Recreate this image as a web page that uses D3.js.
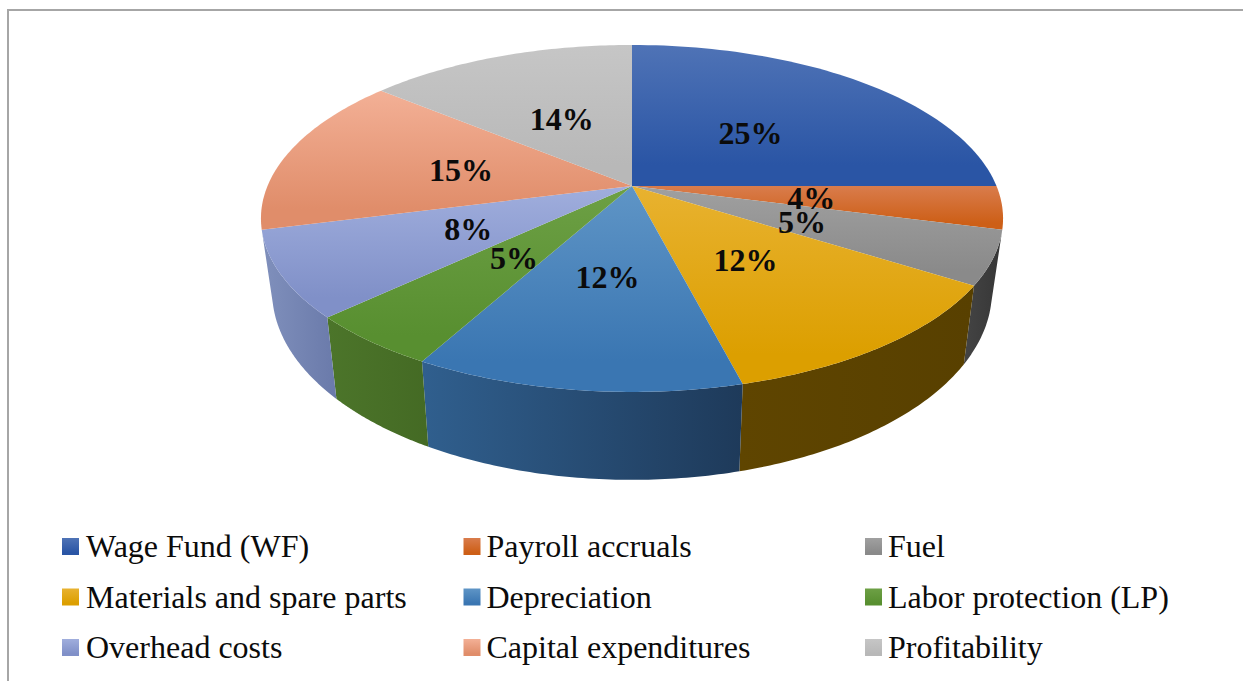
<!DOCTYPE html>
<html><head><meta charset="utf-8">
<script src="https://cdnjs.cloudflare.com/ajax/libs/d3/7.8.5/d3.min.js"></script>
<style>html,body{margin:0;padding:0;background:#fff}svg{display:block}text{font-family:"Liberation Serif",serif;fill:#0b0b0b}</style>
</head><body><svg id="c" width="1243" height="681"></svg>
<script>
const categories=["Wage Fund (WF)","Payroll accruals","Fuel","Materials and spare parts","Depreciation","Labor protection (LP)","Overhead costs","Capital expenditures","Profitability"];
const values=[25,4,5,12,12,5,8,15,14];
const topLight=["#4f73b6","#d97c4c","#a0a0a0","#e8b230","#5f95c6","#6da045","#a0aedd","#f3b096","#c6c6c6"];
const topDark=["#2a55a5","#cd5f17","#8a8a8a","#dc9f00","#3a76b2","#588f30","#8090c8","#e08d6a","#b8b8b8"];
const wallLeft=["#2a55a5","#cd5f17","#444444","#5f4500","#305f8e","#4c752a","#8090bc","#e08d6a","#b8b8b8"];
const wallRight=["#2a55a5","#cd5f17","#363636","#584000","#1e3a5a","#446a24","#6a7aaa","#e08d6a","#b8b8b8"];

const svg=d3.select("#c"),defs=svg.append("defs");
svg.append("rect").attr("x",8).attr("y",10).attr("width",1240).attr("height",680)
  .attr("fill","#fff").attr("stroke","#a6a6a6").attr("stroke-width",2);

// perspective projection of the pie's top and bottom discs
const k=0.187;
const project=(r,t)=>{const u=r*Math.sin(t),v=-r*Math.cos(t),d=1-k*v;return [632+364.5*u/d,186+167.4*v/d];};
const projectBottom=t=>{const u=Math.sin(t),v=-Math.cos(t),d=1-k*v;return [632+0.97*364.5*u/d,256+182*v/d];};
const line=d3.line();
const arcs=d3.pie().sort(null).value(d=>d)(values);
const samples=(a,b)=>d3.range(0,61).map(i=>a+(b-a)*i/60);

arcs.forEach((a,i)=>{
  const g=defs.append("linearGradient").attr("id","top"+i).attr("x1",0).attr("y1",0).attr("x2",0).attr("y2",1);
  g.append("stop").attr("offset","0%").attr("stop-color",topLight[i]);
  g.append("stop").attr("offset","85%").attr("stop-color",topDark[i]);
  const w=defs.append("linearGradient").attr("id","wall"+i).attr("x1",0).attr("y1",0).attr("x2",1).attr("y2",0);
  w.append("stop").attr("offset","0%").attr("stop-color",wallLeft[i]);
  w.append("stop").attr("offset","100%").attr("stop-color",wallRight[i]);
});

// side walls: only the rim facing the viewer
const wallStart=arcs[2].startAngle, wallEnd=arcs[6].endAngle;
arcs.forEach((a,i)=>{
  if(a.endAngle<=wallStart||a.startAngle>=wallEnd) return;
  const ts=samples(a.startAngle,a.endAngle);
  const pts=ts.map(t=>project(1,t)).concat(ts.slice().reverse().map(projectBottom));
  svg.append("path").attr("d",line(pts)+"Z").attr("fill",`url(#wall${i})`);
});
// top face
arcs.forEach((a,i)=>{
  const pts=[project(0,0)].concat(samples(a.startAngle,a.endAngle).map(t=>project(1,t)));
  svg.append("path").attr("d",line(pts)+"Z").attr("fill",`url(#top${i})`);
});
// data labels
arcs.forEach((a,i)=>{
  const [x,y]=project(0.49,(a.startAngle+a.endAngle)/2);
  svg.append("text").attr("x",x).attr("y",y+2).attr("dy","0.34em").attr("text-anchor","middle")
    .attr("font-size",32).attr("font-weight","bold").text(values[i]+"%");
});
// legend
const colX=d3.scalePoint().domain([0,1,2]).range([62,865]);
const rowY=d3.scalePoint().domain([0,1,2]).range([547,648]);
categories.forEach((c,i)=>{
  const col=i%3,x=colX(col),y=rowY(Math.floor(i/3));
  svg.append("rect").attr("x",x).attr("y",y-9).attr("width",17).attr("height",17).attr("fill",`url(#top${i})`);
  svg.append("text").attr("x",x+(col?23:24)).attr("y",y+10).attr("font-size",32).text(c);
});
</script></body></html>
